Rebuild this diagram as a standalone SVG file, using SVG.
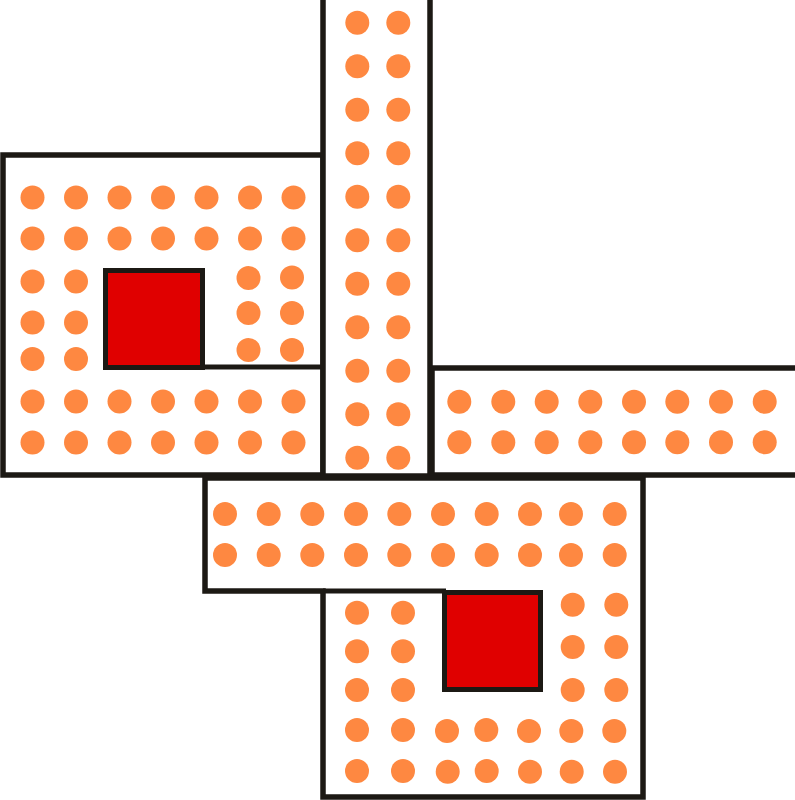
<svg xmlns="http://www.w3.org/2000/svg" width="795" height="800" viewBox="0 0 795 800">
<style>
.b{fill:#fff;stroke:#1c1914;stroke-width:5.5}
.l{fill:none;stroke:#1c1914;stroke-width:5}
.r{fill:#e00000;stroke:#1c1914;stroke-width:5}
.d circle{fill:#fe8841;r:12}
</style>
<rect width="795" height="800" fill="#fff"/>
<g id="left-box">
<rect class="b" x="3" y="155" width="320" height="320"/>
<line class="l" x1="203" y1="367" x2="323" y2="367"/>
<rect class="r" x="105.5" y="270.5" width="97" height="97"/>
<g class="d">
<circle cx="32.5" cy="197.5" r="12"/><circle cx="76" cy="197.5" r="12"/><circle cx="119.5" cy="197.5" r="12"/><circle cx="163" cy="197.5" r="12"/><circle cx="206.5" cy="197.5" r="12"/><circle cx="250" cy="197.5" r="12"/><circle cx="293.5" cy="197.5" r="12"/>
<circle cx="32.5" cy="238.5" r="12"/><circle cx="76" cy="238.5" r="12"/><circle cx="119.5" cy="238.5" r="12"/><circle cx="163" cy="238.5" r="12"/><circle cx="206.5" cy="238.5" r="12"/><circle cx="250" cy="238.5" r="12"/><circle cx="293.5" cy="238.5" r="12"/>
<circle cx="32.5" cy="281.5" r="12"/><circle cx="76" cy="281.5" r="12"/>
<circle cx="32.5" cy="322.5" r="12"/><circle cx="76" cy="322.5" r="12"/>
<circle cx="32.5" cy="359" r="12"/><circle cx="76" cy="359" r="12"/>
<circle cx="248.5" cy="278" r="12"/><circle cx="292" cy="277.5" r="12"/>
<circle cx="248.5" cy="313" r="12"/><circle cx="292" cy="313" r="12"/>
<circle cx="248.5" cy="350" r="12"/><circle cx="292" cy="350" r="12"/>
<circle cx="32.5" cy="401.5" r="12"/><circle cx="76" cy="401.5" r="12"/><circle cx="119.5" cy="401.5" r="12"/><circle cx="163" cy="401.5" r="12"/><circle cx="206.5" cy="401.5" r="12"/><circle cx="250" cy="401.5" r="12"/><circle cx="293.5" cy="401.5" r="12"/>
<circle cx="32.5" cy="442.5" r="12"/><circle cx="76" cy="442.5" r="12"/><circle cx="119.5" cy="442.5" r="12"/><circle cx="163" cy="442.5" r="12"/><circle cx="206.5" cy="442.5" r="12"/><circle cx="250" cy="442.5" r="12"/><circle cx="293.5" cy="442.5" r="12"/>
</g>
</g>
<g id="vertical-strip">
<rect class="b" x="323" y="-5" width="107" height="481"/>
<g class="d">
<circle cx="357.3" cy="22.7" r="12"/><circle cx="398.3" cy="22.7" r="12"/>
<circle cx="357.3" cy="66.2" r="12"/><circle cx="398.3" cy="66.2" r="12"/>
<circle cx="357.3" cy="109.7" r="12"/><circle cx="398.3" cy="109.7" r="12"/>
<circle cx="357.3" cy="153.2" r="12"/><circle cx="398.3" cy="153.2" r="12"/>
<circle cx="357.3" cy="196.7" r="12"/><circle cx="398.3" cy="196.7" r="12"/>
<circle cx="357.3" cy="240.2" r="12"/><circle cx="398.3" cy="240.2" r="12"/>
<circle cx="357.3" cy="283.7" r="12"/><circle cx="398.3" cy="283.7" r="12"/>
<circle cx="357.3" cy="327.2" r="12"/><circle cx="398.3" cy="327.2" r="12"/>
<circle cx="357.3" cy="370.7" r="12"/><circle cx="398.3" cy="370.7" r="12"/>
<circle cx="357.3" cy="414.2" r="12"/><circle cx="398.3" cy="414.2" r="12"/>
<circle cx="357.3" cy="457.7" r="12"/><circle cx="398.3" cy="457.7" r="12"/>
</g>
</g>
<g id="right-strip">
<rect class="b" x="432" y="368" width="370" height="107"/>
<g class="d">
<circle cx="459.3" cy="401.7" r="12"/><circle cx="503.3" cy="401.7" r="12"/><circle cx="546.7" cy="401.7" r="12"/><circle cx="590.3" cy="401.7" r="12"/><circle cx="634" cy="401.7" r="12"/><circle cx="677.3" cy="401.7" r="12"/><circle cx="721" cy="401.7" r="12"/><circle cx="764.7" cy="401.7" r="12"/>
<circle cx="459.3" cy="442.3" r="12"/><circle cx="503.3" cy="442.3" r="12"/><circle cx="546.7" cy="442.3" r="12"/><circle cx="590.3" cy="442.3" r="12"/><circle cx="634" cy="442.3" r="12"/><circle cx="677.3" cy="442.3" r="12"/><circle cx="721" cy="442.3" r="12"/><circle cx="764.7" cy="442.3" r="12"/>
</g>
</g>
<g id="bottom-box">
<path class="b" d="M205 478 H643 V797 H323 V591 H205 Z"/>
<line class="l" x1="323" y1="591" x2="446" y2="591"/>
<rect class="r" x="444.5" y="592.5" width="96" height="97"/>
<g class="d">
<circle cx="225" cy="514" r="12"/><circle cx="268.7" cy="514" r="12"/><circle cx="312.3" cy="514" r="12"/><circle cx="356" cy="514" r="12"/><circle cx="399.3" cy="514" r="12"/><circle cx="443" cy="514" r="12"/><circle cx="486.7" cy="514" r="12"/><circle cx="530" cy="514" r="12"/><circle cx="571" cy="514" r="12"/><circle cx="614.7" cy="514" r="12"/>
<circle cx="225" cy="555" r="12"/><circle cx="268.7" cy="555" r="12"/><circle cx="312.3" cy="555" r="12"/><circle cx="356" cy="555" r="12"/><circle cx="399.3" cy="555" r="12"/><circle cx="443" cy="555" r="12"/><circle cx="486.7" cy="555" r="12"/><circle cx="530" cy="555" r="12"/><circle cx="571" cy="555" r="12"/><circle cx="614.7" cy="555" r="12"/>
<circle cx="357" cy="612.7" r="12"/><circle cx="403" cy="612.7" r="12"/>
<circle cx="357" cy="651.3" r="12"/><circle cx="403" cy="651.3" r="12"/>
<circle cx="357" cy="690" r="12"/><circle cx="403" cy="690" r="12"/>
<circle cx="572.7" cy="604.7" r="12"/><circle cx="616.3" cy="604.7" r="12"/>
<circle cx="572.7" cy="647" r="12"/><circle cx="616.3" cy="647" r="12"/>
<circle cx="572.7" cy="690" r="12"/><circle cx="616.3" cy="690" r="12"/>
<circle cx="357" cy="730" r="12"/><circle cx="403" cy="730" r="12"/><circle cx="447" cy="731" r="12"/><circle cx="486.3" cy="730" r="12"/><circle cx="529" cy="731" r="12"/><circle cx="571.3" cy="731" r="12"/><circle cx="614.3" cy="731" r="12"/>
<circle cx="357" cy="771" r="12"/><circle cx="403" cy="771" r="12"/><circle cx="447.7" cy="771.7" r="12"/><circle cx="486.7" cy="771" r="12"/><circle cx="530" cy="771.7" r="12"/><circle cx="571.7" cy="771.7" r="12"/><circle cx="615" cy="771.7" r="12"/>
</g>
</g>
<g id="connectors"></g>
</svg>
